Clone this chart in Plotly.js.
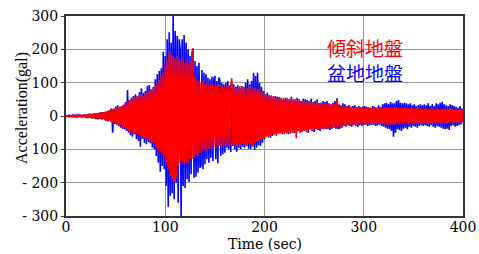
<!DOCTYPE html>
<html>
<head>
<meta charset="utf-8">
<script src="https://cdn.plot.ly/plotly-3.0.1.min.js"></script>
<style>html,body{margin:0;padding:0;background:#fff;}#chart{width:479px;height:254px;}</style>
</head>
<body>
<div id="chart"></div>
<script>
// Sample interval (sec) and start time
const t0 = 0;
const dt = 1;

// 盆地地盤 (basin ground) acceleration, gal, one sample per second
const basin = [
  0, 1, -1, 2, -2, 1, -2, 3, -2, 2,
  -3, 2, -3, 4, -2, 3, -4, 3, -3, 4,
  -5, 4, -6, 7, -5, 6, -8, 7, -6, 8,
  -9, 7, -10, 9, -8, 11, -10, 12, -9, 10,
  -14, 12, -16, 15, -12, 18, 22, -50, 20, -24,
  28, -26, 32, -30, 25, -35, 30, -38, 34, -40,
  42, -45, 78, -50, 48, -58, 55, -62, 60, -55,
  65, -70, 58, -75, 72, -92, 83, -68, 70, -80,
  75, -85, 90, -78, 93, -82, 80, -95, 88, -100,
  110, -120, 125, -140, 135, -167, 143, -150, 193, -160,
  180, -210, 230, -272, 251, -240, 220, -232, 300, -250,
  255, -200, 240, -260, 230, 200, -300, 230, -210, 243,
  -216, 220, -190, 200, -198, 180, -175, 190, 203, -185,
  165, -182, 150, -170, 160, -155, -150, 138, -160, 130,
  -145, 125, -130, 115, -140, 110, -125, 118, -135, 112,
  120, -130, 105, -142, 115, 108, -120, 100, -115, 95,
  -110, 100, -95, 105, -100, 92, -108, 98, -90, 95,
  -100, 88, -107, 92, -95, 85, -100, 90, -92, 86,
  -95, 100, -90, 110, -98, 95, -100, 105, -92, 130,
  -102, 120, -95, 130, -88, 100, -90, 88, -80, 75,
  -70, 65, -60, 70, -58, 62, -65, 55, -60, 58,
  -55, 60, -50, 58, -47, 55, -52, 50, -55, 48,
  -50, 55, -48, 52, -55, 50, -45, 58, -50, 47,
  -52, 50, -48, 55, -45, 50, -50, 45, -48, 52,
  -45, 50, -42, 48, -50, 45, -40, 52, -45, 42,
  -48, 45, -40, 50, -42, 38, -45, 40, -38, 45,
  -40, 42, -38, 45, -40, 38, -42, 35, -38, 40,
  -35, 45, -38, 53, -40, 35, -38, 32, -35, 38,
  -30, 35, -32, 30, -28, 33, -30, 28, -32, 30,
  -28, 32, -30, 27, -33, 30, -28, 26, -30, 28,
  -27, 30, -25, 28, -30, 26, -28, 25, -27, 30,
  -26, 28, -30, 25, -28, 32, -26, 28, -30, 35,
  -32, 38, -35, 40, -38, 35, -40, 42, -45, 38,
  -62, 38, -50, 45, -40, 48, -42, 40, -45, 38,
  -38, 40, -35, 38, -40, 35, -32, 38, -35, 32,
  -30, 35, -32, 30, -35, 33, -30, 35, -28, 32,
  -30, 35, -28, 32, -30, 38, -32, 30, -28, 35,
  -32, 30, -35, 38, -30, 35, -32, 40, -35, 43,
  -38, 35, -40, 32, -38, 30, -42, 35, -30, 33,
  -28, 30, -32, 28, -30, 25, -28, 30, -25, 22, -20
];

// 傾斜地盤 (slope ground) acceleration, gal
const slope = [
  0, -1, 1, -2, 1, -1, 2, -2, 1, -2,
  2, -3, 2, -3, 3, -2, 3, -3, 4, -3,
  4, -5, 5, -4, 6, -5, 6, -7, 6, -7,
  8, -7, 9, -8, 10, -9, 11, -10, 12, -11,
  14, -13, 16, -15, 18, -17, 20, -19, 22, -20,
  24, -22, 26, -25, 28, -27, 30, -32, 34, -33,
  38, -40, 42, -45, 48, -46, 50, -52, 55, -50,
  58, -55, 60, -58, 62, -60, 65, -62, 60, -65,
  68, -70, 72, -68, 75, -72, 78, -80, 85, -82,
  90, -95, 100, -105, 110, -107, 120, -115, 130, -125,
  150, -140, 170, -160, 193, -180, 185, -190, 180, -197,
  175, -185, 180, -150, 170, -140, 165, -135, 175, -145,
  160, -140, 170, -142, 155, -130, 165, -128, 203, -125,
  120, -115, 110, -120, 105, -110, 100, -105, 108, -100,
  95, -105, 100, -98, 92, -100, 95, -90, 98, -95,
  90, -95, 92, -88, 95, -90, 88, -92, 85, -90,
  90, -85, 88, -92, 85, -88, 90, 113, -85, 88,
  -90, 85, -88, 82, -85, 90, -88, 85, -82, 88,
  -85, 80, -88, 85, -80, 90, -85, 82, -88, 85,
  -80, 85, -78, 82, -75, 80, -72, 73, -70, 68,
  -66, 65, -62, 60, -65, 58, -60, 62, -55, 60,
  -58, 55, -60, 52, -55, 58, -52, 55, -50, 53,
  -55, 50, -52, 55, -50, 48, -53, 50, -48, 52,
  -50, 48, -67, 50, -45, 48, -50, 45, -48, 46,
  -45, 42, -48, 44, -42, 45, -40, 43, -45, 40,
  -42, 40, -38, 42, -40, 38, -40, 36, -38, 40,
  -38, 36, -40, 38, -35, 37, -36, 34, -38, 35,
  -34, 36, -32, 50, -35, 33, -32, 30, -33, 31,
  -30, 28, -30, 27, -28, 29, -26, 28, -27, 26,
  -27, 25, -28, 26, -25, 27, -24, 26, -25, 24,
  -25, 23, -26, 24, -23, 25, -22, 24, -25, 22,
  -23, 24, -22, 25, -24, 22, -23, 26, -24, 23,
  -25, 27, -26, 28, -27, 25, -28, 26, -27, 25,
  -26, 28, -25, 27, -24, 26, -25, 24, -26, 25,
  -24, 25, -23, 26, -24, 22, -25, 23, -22, 24,
  -23, 22, -24, 23, -22, 24, -21, 23, -22, 21,
  -22, 23, -21, 24, -22, 20, -23, 22, -21, 23,
  -22, 21, -23, 22, -20, 23, -22, 21, -24, 22,
  -21, 23, -22, 20, -23, 22, -21, 23, -20, 22,
  -21, 20, -22, 21, -19, 22, -20, 21, -19, 18, -16
];

const xTickVals = [0, 100, 200, 300, 400];
const xTickText = ['0', '100', '200', '300', '400'];
const yTickVals = [300, 200, 100, 0, -100, -200, -300];
const yTickText = ['300', '200', '100', '0', '100', '- 200', '- 300'];

const seriesNames = ['傾斜地盤', '盆地地盤'];
const seriesColors = ['#ff0000', '#0000ff'];
const xTitle = 'Time (sec)';
const yTitle = 'Acceleration(gal)';

const traces = [
  {type: 'scatter', mode: 'lines', name: seriesNames[1], x0: t0, dx: dt, y: basin,
   line: {color: seriesColors[1], width: 1.6}},
  {type: 'scatter', mode: 'lines', name: seriesNames[0], x0: t0, dx: dt, y: slope,
   line: {color: seriesColors[0], width: 1.6}}
];

const tickFont = {family: 'DejaVu Serif', size: 14, color: '#000'};

const legendText =
  '<span style="color:' + seriesColors[0] + '">' + seriesNames[0] + '</span><br>' +
  '<span style="color:' + seriesColors[1] + '">' + seriesNames[1] + '</span>';

const layout = {
  width: 479, height: 254,
  margin: {l: 66, r: 16, t: 16, b: 38},
  paper_bgcolor: '#fff', plot_bgcolor: '#fff',
  showlegend: false,
  xaxis: {
    range: [0, 400], tickvals: xTickVals, ticktext: xTickText,
    showgrid: true, gridcolor: '#9a9a9a', gridwidth: 1.2,
    zeroline: false, showline: true, linecolor: '#333', linewidth: 2, mirror: true,
    ticks: '', tickfont: tickFont, ticklabelstandoff: -3
  },
  yaxis: {
    range: [-300, 300], tickvals: yTickVals, ticktext: yTickText,
    showgrid: true, gridcolor: '#9a9a9a', gridwidth: 1.2,
    zeroline: false, showline: true, linecolor: '#333', linewidth: 2, mirror: true,
    ticks: 'outside', ticklen: 3, tickcolor: '#333', tickfont: tickFont
  },
  annotations: [
    {text: yTitle, xref: 'paper', yref: 'paper', x: -0.111, y: 0.54, textangle: -90,
     showarrow: false, xanchor: 'center', yanchor: 'middle',
     font: {family: 'Liberation Serif', size: 16, color: '#000'}},
    {text: xTitle, xref: 'paper', yref: 'paper', x: 0.5, y: -0.142,
     showarrow: false, xanchor: 'center', yanchor: 'middle',
     font: {family: 'DejaVu Serif', size: 14, color: '#000'}},
    {text: legendText, xref: 'paper', yref: 'paper', x: 0.854, y: 0.78,
     showarrow: false, xanchor: 'right', yanchor: 'middle', align: 'right',
     font: {family: 'Noto Sans CJK JP', size: 19, color: '#000'}}
  ]
};

Plotly.newPlot('chart', traces, layout, {displayModeBar: false, staticPlot: true});
</script>
</body>
</html>
